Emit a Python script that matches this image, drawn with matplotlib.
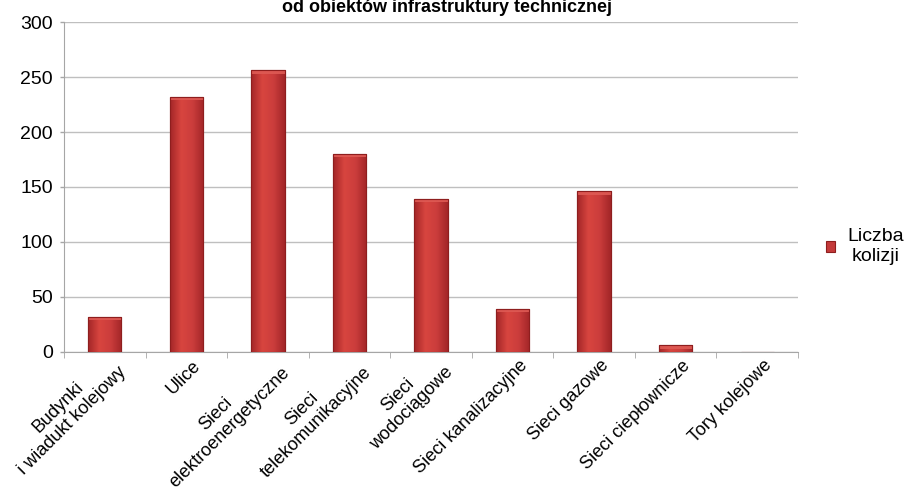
import matplotlib.pyplot as plt
import matplotlib.transforms as mtransforms
import numpy as np
from matplotlib.colors import LinearSegmentedColormap

plt.rcParams['font.family'] = ['Liberation Sans', 'DejaVu Sans']

kategorie = ['Budynki\ni wiadukt kolejowy', 'Ulice', 'Sieci\nelektroenergetyczne',
             'Sieci\ntelekomunikacyjne', 'Sieci\nwodociągowe', 'Sieci kanalizacyjne',
             'Sieci gazowe', 'Sieci ciepłownicze', 'Tory kolejowe']
liczba_kolizji = [32, 232, 256, 180, 139, 39, 146, 6, 0]
tytul = 'od obiektów infrastruktury technicznej'
seria = 'Liczba\nkolizji'

fig = plt.figure(figsize=(9.05, 4.98), dpi=100)
ax = fig.add_axes([0.0707, 0.2932, 0.8111, 0.6626])

x = np.arange(len(kategorie))
bary = ax.bar(x, liczba_kolizji, width=0.41, color='#C43A3A', edgecolor='#8E1E1E',
              linewidth=0.8, label=seria, zorder=3)

# gradient w slupkach (ciemne brzegi, jasniejszy srodek)
cmap = LinearSegmentedColormap.from_list('czerw', ['#A32628', '#D8453F', '#CB3D3C', '#A32628'])
grad = np.linspace(0, 1, 64).reshape(1, -1)
for b in bary:
    if b.get_height() <= 0:
        continue
    bx, by = b.get_x(), b.get_y()
    w, h = b.get_width(), b.get_height()
    im = ax.imshow(grad, cmap=cmap, aspect='auto', extent=(bx, bx + w, by, by + h),
                   zorder=3.5, interpolation='bicubic')
    im.set_clip_path(b)
    # jasniejszy "daszek" na gorze
    cap = min(h, 3.0)
    ax.bar(bx + w / 2, cap, bottom=by + h - cap, width=w, color='#DE5A54',
           edgecolor='none', alpha=0.9, zorder=4)
    ax.bar(bx + w / 2, h, bottom=by, width=w, color='none', edgecolor='#8E1E1E',
           linewidth=0.8, zorder=4.5)

ax.set_xlim(-0.5, len(kategorie) - 0.5)
ax.set_ylim(0, 300)
ax.set_yticks(np.arange(0, 301, 50))
ax.yaxis.grid(True, color='#BFBFBF', linewidth=1, zorder=0)
ax.set_axisbelow(True)

for s in ['top', 'right']:
    ax.spines[s].set_visible(False)
ax.spines['left'].set_color('#A6A6A6')
ax.spines['bottom'].set_color('#A6A6A6')

ax.tick_params(axis='y', labelsize=14, length=3, width=1, color='#A6A6A6', pad=5)
ax.set_xticks(x)
ax.set_xticklabels(kategorie, fontsize=13)
ax.set_xticks(np.arange(len(kategorie) + 1) - 0.5, minor=True)
ax.tick_params(axis='x', which='major', length=0, pad=8)
ax.tick_params(axis='x', which='minor', length=4, color='#A6A6A6')
przesun = mtransforms.ScaledTranslation(12 / 100, 0, fig.dpi_scale_trans)
for lab in ax.get_xticklabels():
    lab.set_rotation(45)
    lab.set_ha('right')
    lab.set_va('center')
    lab.set_rotation_mode('anchor')
    lab.set_multialignment('center')
    lab.set_linespacing(1.2)
    lab.set_transform(lab.get_transform() + przesun)

fig.text(0.494, 0.976, tytul, ha='center', va='baseline', fontsize=13, fontweight='bold')

leg = ax.legend(loc='center left', bbox_to_anchor=(0.893, 0.505), bbox_transform=fig.transFigure,
                frameon=False, fontsize=14, handlelength=0.5, handleheight=0.5,
                handletextpad=0.6)
for t in leg.get_texts():
    t.set_multialignment('center')

fig.savefig('out.png', dpi=100)
